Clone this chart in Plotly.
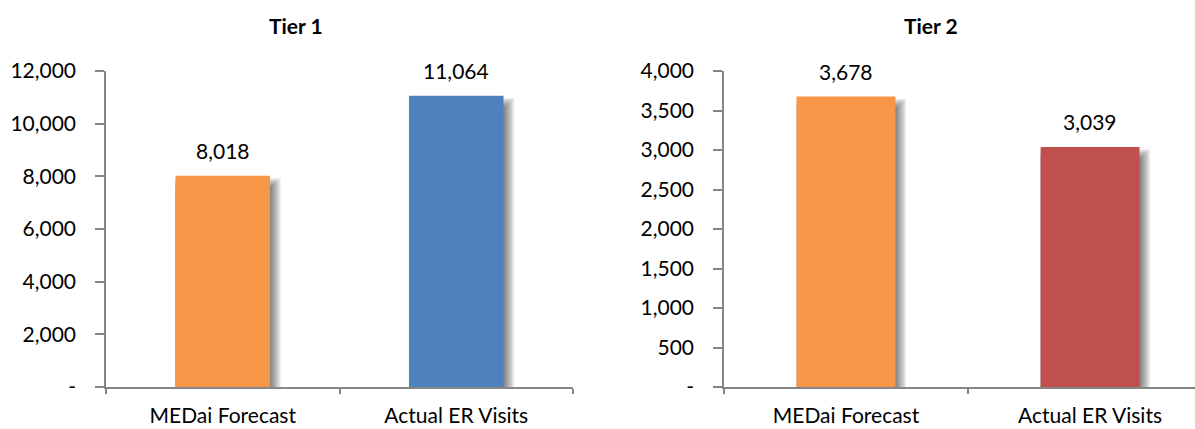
import plotly.graph_objects as go

# Chart data
categories = ["MEDai Forecast", "Actual ER Visits"]
tier1_values = [8018, 11064]
tier2_values = [3678, 3039]
tier1_colors = ["#F79646", "#4F81BD"]
tier2_colors = ["#F79646", "#C0504D"]
tier1_ticks = [0, 2000, 4000, 6000, 8000, 10000, 12000]
tier2_ticks = [0, 500, 1000, 1500, 2000, 2500, 3000, 3500, 4000]
titles = ["Tier 1", "Tier 2"]

W, H = 1195, 429
FONT = "Lato, 'Open Sans', sans-serif"
FONT_SIZE = 21
AXIS_GRAY = "#868686"
BAR_W = 0.405

plot_top, plot_bottom = 71, 387
y_dom = [(H - plot_bottom) / H, (H - plot_top) / H]

panels = [
    dict(values=tier1_values, colors=tier1_colors, ticks=tier1_ticks,
         x0=106, x1=573, xrange=[-0.5, 1.5], xa="x", ya="y", title=titles[0], tx=296),
    dict(values=tier2_values, colors=tier2_colors, ticks=tier2_ticks,
         x0=724, x1=1195, xrange=[-0.5, 1.43], xa="x2", ya="y2", title=titles[1], tx=931),
]

fig = go.Figure()
annotations = []

for i, p in enumerate(panels):
    ymax = p["ticks"][-1]
    px_x = (p["xrange"][1] - p["xrange"][0]) / (p["x1"] - p["x0"])  # category units per px
    px_y = ymax / (plot_bottom - plot_top)                          # value units per px

    # soft drop shadow to the right of each bar, built from stacked translucent layers
    n_layers = 9
    for j in range(n_layers):
        ext = (n_layers - j) * 1.2 * px_x
        drop = (j + 2) * 1.1 * px_y
        fig.add_trace(go.Bar(
            x=categories, y=[max(v - drop, 0) for v in p["values"]],
            width=BAR_W + ext, offset=-BAR_W / 2,
            marker=dict(color="rgba(0,0,0,0.065)", line=dict(width=0)),
            xaxis=p["xa"], yaxis=p["ya"], showlegend=False, hoverinfo="skip",
        ))

    fig.add_trace(go.Bar(
        x=categories, y=p["values"], width=BAR_W, offset=-BAR_W / 2,
        marker=dict(color=p["colors"], line=dict(width=0)),
        xaxis=p["xa"], yaxis=p["ya"], showlegend=False,
    ))

    for c, v in zip(categories, p["values"]):
        annotations.append(dict(
            x=c, y=v, xref=p["xa"], yref=p["ya"], text=f"{v:,}",
            showarrow=False, yanchor="middle", yshift=25,
            font=dict(family=FONT, size=FONT_SIZE, color="#000000"),
        ))

    annotations.append(dict(
        x=p["tx"] / W, y=1 - 25 / H, xref="paper", yref="paper",
        text=f"<b>{p['title']}</b>", showarrow=False,
        xanchor="center", yanchor="middle",
        font=dict(family=FONT, size=FONT_SIZE, color="#000000"),
    ))

    suffix = "" if i == 0 else "2"
    fig.update_layout(**{
        f"xaxis{suffix}": dict(
            domain=[p["x0"] / W, p["x1"] / W], range=p["xrange"],
            type="category", showgrid=False, zeroline=False,
            showline=True, linecolor=AXIS_GRAY, linewidth=1.5,
            ticks="outside", tickson="boundaries", ticklen=5,
            tickcolor=AXIS_GRAY, tickwidth=1.5, ticklabelstandoff=9,
            tickfont=dict(family=FONT, size=FONT_SIZE, color="#000000"),
            anchor=p["ya"], fixedrange=True, automargin=False,
        ),
        f"yaxis{suffix}": dict(
            domain=y_dom, range=[0, ymax], showgrid=False, zeroline=False,
            showline=True, linecolor=AXIS_GRAY, linewidth=1.5,
            ticks="outside", ticklen=9, tickcolor=AXIS_GRAY, tickwidth=1.5,
            tickvals=p["ticks"],
            ticktext=["-" if t == 0 else f"{t:,}" for t in p["ticks"]],
            ticklabelstandoff=15,
            tickfont=dict(family=FONT, size=FONT_SIZE, color="#000000"),
            anchor=p["xa"], fixedrange=True, automargin=False,
        ),
    })

fig.update_layout(
    width=W, height=H, margin=dict(l=0, r=0, t=0, b=0, autoexpand=False),
    barmode="overlay", paper_bgcolor="white", plot_bgcolor="white",
    annotations=annotations, showlegend=False,
)

fig.write_html("out.html", config={"displayModeBar": False})
